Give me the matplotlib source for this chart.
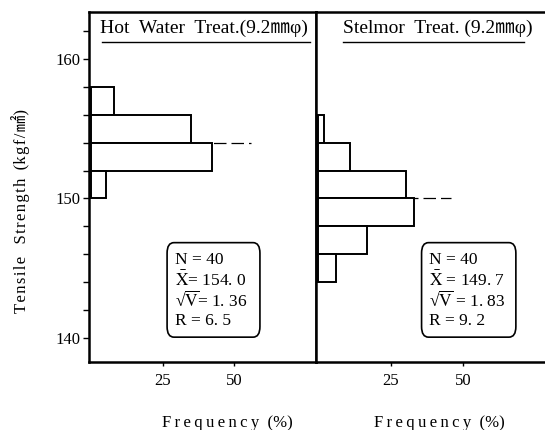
import matplotlib
matplotlib.use("Agg")
import matplotlib.pyplot as plt
from matplotlib.patches import FancyBboxPatch

plt.rcParams['font.family'] = ['Liberation Serif', 'Noto Sans CJK JP']
plt.rcParams['mathtext.fontset'] = 'stix'

# class edges (kgf/mm2) and frequency (%)
hot_bins = [156, 154, 152, 150]
hot_freq = [8, 35, 42.5, 5]
hot_mean = 154.0
hot_stats = ["N = 40", r"$\bar{\mathrm{X}}$= 154. 0",
             "\u221a" + r"$\overline{\mathrm{V}}$= 1. 36", "R = 6. 5"]

stel_bins = [154, 152, 150, 148, 146, 144]
stel_freq = [2, 11, 30.5, 33, 17, 6]
stel_mean = 150.0
stel_stats = ["N = 40", r"$\bar{\mathrm{X}}$ = 149. 7",
              "\u221a" + r"$\overline{\mathrm{V}}$ = 1. 83", "R = 9. 2"]

bin_width = 2
mean_line_len = [56, 46]
titles = ["Hot  Water  Treat.(9.2\u339c\u03c6)", "Stelmor  Treat. (9.2\u339c\u03c6)"]


def spaced(s, gap="\u2009"):
    # loose letter spacing like the printed original
    return gap.join(s)


W, H = 545, 430
fig = plt.figure(figsize=(W / 100, H / 100), dpi=100)

def px_axes(l, r, t, b):
    return fig.add_axes([l / W, 1 - b / H, (r - l) / W, (b - t) / H])

ax1 = px_axes(89, 316, 12, 362)
ax2 = px_axes(316, 546, 12, 362)

panels = [
    (ax1, hot_bins, hot_freq, hot_mean, hot_stats, mean_line_len[0], titles[0],
     (0.048, 0.057, 0.974), (0.344, 0.753), 0.38),
    (ax2, stel_bins, stel_freq, stel_mean, stel_stats, mean_line_len[1], titles[1],
     (0.118, 0.118, 0.904), (0.459, 0.869), 0.49),
]

for ax, bins, freq, mean, stats, mlen, title, tpos, boxx, textx in panels:
    ax.barh(bins, freq, height=bin_width, align='edge', left=0,
            facecolor='white', edgecolor='black', linewidth=1.4, zorder=2)
    ax.plot([0, mlen], [mean, mean], color='black', lw=0.9,
            linestyle=(0, (10, 4)), zorder=1)
    ax.set_xlim(-0.8, 78.8)
    ax.set_ylim(138.25, 163.4)
    ax.set_xticks([25, 50])
    ax.set_xticklabels(['25', '50'], fontsize=12)
    ax.tick_params(axis='x', direction='out', length=3, width=1, pad=5)
    for s in ax.spines.values():
        s.set_linewidth(1.8)

    ax.text(tpos[0], 0.952, title, transform=ax.transAxes, fontsize=14,
            ha='left', va='center')
    ax.plot([tpos[1], tpos[2]], [0.914, 0.914], transform=ax.transAxes,
            color='black', lw=1.0, clip_on=False)

    box = FancyBboxPatch((boxx[0], 0.071), boxx[1] - boxx[0], 0.27,
                         boxstyle='round,pad=0,rounding_size=0.03',
                         transform=ax.transAxes, facecolor='white',
                         edgecolor='black', linewidth=1.2, zorder=3)
    ax.add_patch(box)
    for i, line in enumerate(stats):
        ax.text(textx, 0.291 - i * 0.058, line, transform=ax.transAxes,
                fontsize=12.5, ha='left', va='center', zorder=4)

ax1.set_yticks([140, 150, 160])
ax1.set_yticklabels(['140', '150', '160'], fontsize=12)
ax1.set_yticks(range(140, 164, 2), minor=True)
ax1.tick_params(axis='y', which='both', direction='out', length=4, width=1, pad=2)
ax2.set_yticks([])
ax2.set_yticks([], minor=True)

hs = "\u200a"
fig.text(0.038, 0.51, spaced("Tensile", hs) + "   " + spaced("Strength", hs) + "  (" +
         spaced("kgf/\u339f", hs) + ")", rotation=90,
         ha='center', va='center', fontsize=12)
for xc in [0.417, 0.807]:
    fig.text(xc, 0.017, spaced("Frequency") + "  (%)", ha='center', va='center',
             fontsize=12)

fig.savefig("out.png", dpi=100)
